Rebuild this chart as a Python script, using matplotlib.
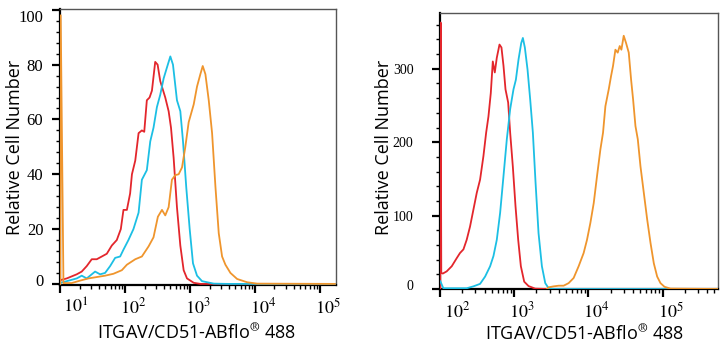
import matplotlib.pyplot as plt
import matplotlib.transforms as mtransforms
from matplotlib.ticker import FixedLocator, MultipleLocator, NullFormatter

plt.rcParams['mathtext.fontset'] = 'stix'

# ---- left panel: fluorescence intensity vs relative cell number ----
red1_x = [10.6, 12.7, 18.1, 21.6, 25.8, 30.8, 36.8, 44.0, 52.5, 62.7, 74.8, 86.3,
          94.8, 107, 120, 128, 144, 162, 182, 198, 217, 239, 260, 292, 318, 349,
          417, 470, 511, 561, 631, 711, 800, 901, 1143, 1446, 170000]
red1_y = [1.5, 2, 3.5, 4.5, 6.5, 9, 9, 10, 11, 14, 16, 20, 27, 27, 33, 40, 45, 55,
          56, 55.5, 67, 68, 70.5, 81, 80, 74, 68, 63, 57, 46, 28, 14, 5, 2, 0.4, 0, 0]

cyan1_x = [10.6, 12.7, 18.1, 21.6, 25.8, 30.8, 34.7, 41.4, 49.4, 59.1, 70.6, 84.3,
           94.8, 113, 135, 162, 182, 217, 245, 275, 310, 349, 394, 443, 499, 548,
           631, 711, 782, 879, 991, 1114, 1285, 1535, 2323, 3733, 170000]
cyan1_y = [0.5, 1, 2, 3, 2, 3.5, 4.5, 3.5, 4, 6.5, 9.5, 10, 12.5, 16, 20, 26, 38,
           41.5, 52, 57, 64.5, 69, 75, 79, 83, 80, 67, 63, 52, 35, 20, 7.5, 3, 1,
           0.1, 0, 0]

orange1_x = [10.1, 10.25, 11.3, 15.1, 20.4, 27.4, 36.8, 49.4, 66.5, 89.5, 107, 144,
             182, 231, 275, 321, 371, 417, 470, 528, 595, 670, 755, 849, 956, 1143,
             1285, 1446, 1573, 1730, 1947, 2192, 2467, 2775, 3124, 3515, 4200, 5321,
             7595, 10840, 170000]
orange1_y = [0, 98, 0.3, 0.3, 1.2, 2, 2.5, 3, 3.7, 5, 7, 9, 10, 13.7, 17, 24.5, 27,
             25, 28, 38, 39.7, 40, 42.5, 50, 59, 65.5, 72, 76.5, 79.5, 76.5, 67, 55,
             35.5, 18.5, 10, 7, 4, 1.8, 0.6, 0.1, 0]

# ---- right panel ----
red2_x = [101, 102, 104, 109, 123, 144, 168, 186, 207, 229, 254, 282, 313, 347, 385,
          419, 450, 484, 515, 548, 583, 634, 674, 718, 764, 830, 883, 959, 1042,
          1133, 1231, 1365, 1562, 1923, 2762, 560000]
red2_y = [0, 363, 22, 21, 24, 31, 42, 49, 54, 67, 85, 108, 131, 149, 181, 213, 235,
          267, 310, 295, 315, 333, 329, 304, 272, 254, 213, 167, 113, 67, 31, 10, 4,
          0.5, 0, 0]

cyan2_x = [101, 111, 144, 229, 282, 347, 406, 474, 526, 583, 647, 718, 796, 883,
           979, 1054, 1146, 1245, 1310, 1393, 1514, 1645, 1787, 1942, 2131, 2365,
           2625, 2913, 3404, 560000]
cyan2_y = [10.5, 1, 1, 1, 3.6, 7, 17, 31, 45, 67, 104, 154, 204, 245, 272, 285, 313,
           335, 342, 329, 299, 258, 213, 145, 76, 31, 8, 1, 0, 0]

orange2_x = [2762, 2913, 3404, 3975, 4644, 5424, 6336, 7400, 8643, 9594, 10650,
             11820, 13100, 14530, 15780, 16980, 18840, 20240, 21530, 23170, 24890,
             26490, 27900, 29990, 32280, 35070, 37730, 40150, 43170, 46430, 50470,
             55970, 62080, 68850, 76350, 84680, 93910, 106400, 128200, 560000]
orange2_y = [0, 2.3, 3.6, 4.5, 4.5, 8, 15, 31, 49, 67, 90, 117, 154, 190, 213, 249,
             272, 290, 304, 326, 322, 331, 326, 345, 335, 322, 285, 258, 222, 204,
             167, 131, 95, 63, 35, 17, 8, 3, 0.5, 0]

colors = {'red': '#e3262c', 'cyan': '#1cbfe4', 'orange': '#ef952d'}

fig = plt.figure(figsize=(7.27, 3.5), dpi=100)
ax1 = fig.add_axes([60 / 727, 1 - 285 / 350, 276 / 727, 276 / 350])
ax2 = fig.add_axes([440 / 727, 1 - 289 / 350, 278 / 727, 276 / 350])


def style_axis(ax, xlim, ylim, ymajor, yminor, exps, first_shift, ypad, ysize):
    ax.set_xscale('log')
    ax.set_xlim(*xlim)
    ax.set_ylim(*ylim)
    for side in ['top', 'right']:
        ax.spines[side].set_color('#555555')
        ax.spines[side].set_linewidth(1.0)
    for side in ['left', 'bottom']:
        ax.spines[side].set_color('black')
        ax.spines[side].set_linewidth(1.6)
    ax.xaxis.set_major_locator(FixedLocator([10.0 ** e for e in exps]))
    ax.set_xticklabels(['$10^{%d}$' % e for e in exps])
    minors = [m * 10.0 ** e for e in range(exps[0], 6) for m in range(2, 10)]
    ax.xaxis.set_minor_locator(FixedLocator(minors))
    ax.xaxis.set_minor_formatter(NullFormatter())
    ax.yaxis.set_major_locator(MultipleLocator(ymajor))
    ax.yaxis.set_minor_locator(MultipleLocator(yminor))
    ax.tick_params(which='major', direction='out', length=6, width=1.6,
                   color='black')
    ax.tick_params(which='minor', direction='out', length=3, width=1.0,
                   color='black')
    ax.tick_params(axis='x', pad=3, labelsize=13)
    ax.tick_params(axis='y', pad=ypad, labelsize=ysize)
    for lab in ax.get_yticklabels():
        lab.set_fontfamily('Liberation Serif')
    for i, lab in enumerate(ax.get_xticklabels()):
        dx = first_shift if i == 0 else 8
        off = mtransforms.ScaledTranslation(dx / 100, 0, fig.dpi_scale_trans)
        lab.set_transform(lab.get_transform() + off)


def plot_curves(ax, xs, ys):
    for (x, y), name in zip(zip(xs, ys), ['red', 'cyan', 'orange']):
        ax.plot(x, y, color=colors[name], lw=1.3, solid_joinstyle='round',
                zorder=3)


plot_curves(ax1, [red1_x, cyan1_x, orange1_x], [red1_y, cyan1_y, orange1_y])
plot_curves(ax2, [red2_x, cyan2_x, orange2_x], [red2_y, cyan2_y, orange2_y])

style_axis(ax1, (10, 1.77e5), (-0.4, 100.3), 20, 4, [1, 2, 3, 4, 5], 16, 6, 12)
style_axis(ax2, (100, 5.6e5), (0, 376), 100, 20, [2, 3, 4, 5], 17, 13, 10)


def nudge(ax, value, dy):
    for lab, tick in zip(ax.get_yticklabels(), ax.get_yticks()):
        if tick == value:
            off = mtransforms.ScaledTranslation(0, dy, fig.dpi_scale_trans)
            lab.set_transform(lab.get_transform() + off)


nudge(ax1, 100, -0.06)
nudge(ax1, 0, 0.04)
nudge(ax2, 0, 0.04)

label_font = dict(family=['Open Sans', 'DejaVu Sans'], fontsize=13)
xlabel = r'ITGAV/CD51-ABflo$^{\circledR}$ 488'
fig.text(15 / 727, 1 - 147 / 350, 'Relative Cell Number', rotation=90,
         ha='center', va='center', **label_font)
fig.text(384 / 727, 1 - 147 / 350, 'Relative Cell Number', rotation=90,
         ha='center', va='center', **label_font)
fig.text(197 / 727, 1 - 333 / 350, xlabel, ha='center', va='center', **label_font)
fig.text(585 / 727, 1 - 334 / 350, xlabel, ha='center', va='center', **label_font)

fig.savefig('out.png', dpi=100)
